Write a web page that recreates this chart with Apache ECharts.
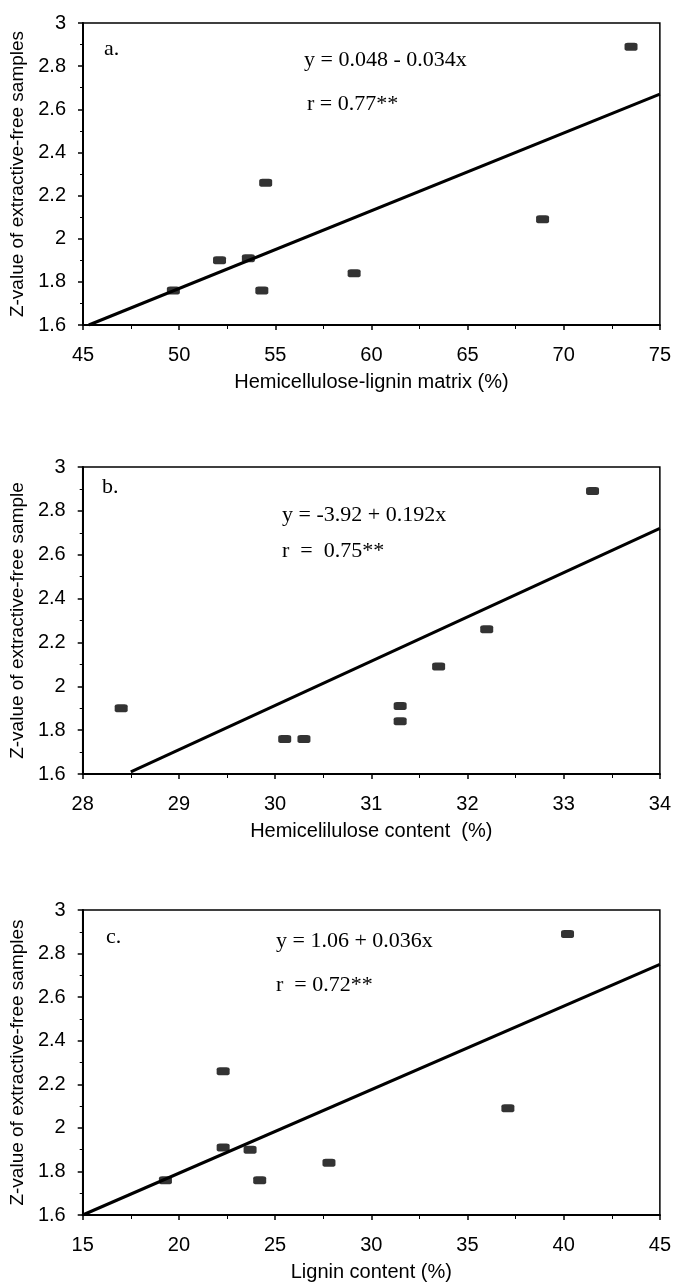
<!DOCTYPE html>
<html>
<head>
<meta charset="utf-8">
<script src="https://cdn.jsdelivr.net/npm/echarts@6/dist/echarts.min.js"></script>
<style>
  html, body { margin: 0; padding: 0; background: #fff; }
  #chart { width: 674px; height: 1285px; }
</style>
</head>
<body>
<div id="chart"></div>
<script>
// panel a: hemicellulose-lignin matrix
const matrixX = [73.5, 54.5, 68.9, 52.1, 53.6, 59.1, 54.3, 49.7]
const matrixZ = [2.89, 2.26, 2.09, 1.90, 1.91, 1.84, 1.76, 1.76]
const matrixFit = [[45.3, 1.6], [75, 2.67]]

// panel b: hemicellulose content
const hemiX = [33.3, 32.2, 31.7, 31.3, 31.3, 28.4, 30.1, 30.3]
const hemiZ = [2.89, 2.26, 2.09, 1.91, 1.84, 1.90, 1.76, 1.76]
const hemiFit = [[28.5, 1.61], [34, 2.72]]

// panel c: lignin content
const ligninX = [40.2, 22.3, 37.1, 22.3, 23.7, 27.8, 24.2, 19.3]
const ligninZ = [2.89, 2.26, 2.09, 1.91, 1.90, 1.84, 1.76, 1.76]
const ligninFit = [[15, 1.6], [45, 2.75]]

const yTicks = { min: 1.6, max: 3, interval: 0.2 }

const sans = 'Liberation Sans, Arial, sans-serif'
const serif = 'Liberation Serif, Times New Roman, serif'

const pair = (xs, ys) => xs.map((v, i) => [v, ys[i]])

const grids = [
  { left: 83, top: 23, width: 579, height: 302 },
  { left: 82, top: 467, width: 580, height: 307 },
  { left: 82, top: 910, width: 580, height: 305 },
].map((g) => ({ ...g, show: true, borderColor: '#000', borderWidth: 1.5, backgroundColor: 'transparent' }))

const xDefs = [
  { min: 45, max: 75, interval: 5, name: 'Hemicellulose-lignin matrix (%)' },
  { min: 28, max: 34, interval: 1, name: 'Hemicelilulose content  (%)' },
  { min: 15, max: 45, interval: 5, name: 'Lignin content (%)' },
]
const yNames = [
  'Z-value of extractive-free samples',
  'Z-value of extractive-free sample',
  'Z-value of extractive-free samples',
]

const xAxis = xDefs.map((d, i) => ({
  type: 'value',
  gridIndex: i,
  min: d.min,
  max: d.max,
  interval: d.interval,
  name: d.name,
  nameLocation: 'middle',
  nameGap: 47,
  nameTextStyle: { fontFamily: sans, fontSize: 20, color: '#000' },
  axisLine: { onZero: false, lineStyle: { color: '#000', width: 2 } },
  axisTick: { show: true, length: 5, lineStyle: { color: '#000', width: 1.5 } },
  minorTick: { show: true, splitNumber: 2, length: 4, lineStyle: { color: '#000' } },
  axisLabel: { fontFamily: sans, fontSize: 20, color: '#000', margin: 20 },
  splitLine: { show: false },
}))

const yAxis = yNames.map((n, i) => ({
  type: 'value',
  gridIndex: i,
  min: yTicks.min,
  max: yTicks.max,
  interval: yTicks.interval,
  name: n,
  nameLocation: 'middle',
  nameGap: 54,
  nameTextStyle: { fontFamily: sans, fontSize: 19, color: '#000' },
  axisLine: { onZero: false, lineStyle: { color: '#000', width: 2 } },
  axisTick: { show: true, length: 5, lineStyle: { color: '#000', width: 1.5 } },
  minorTick: { show: true, splitNumber: 2, length: 3, lineStyle: { color: '#000' } },
  axisLabel: { fontFamily: sans, fontSize: 20, color: '#000', margin: 17 },
  splitLine: { show: false },
}))

const scatter = (data, i) => ({
  type: 'scatter',
  xAxisIndex: i,
  yAxisIndex: i,
  data,
  symbol: 'roundRect',
  symbolSize: [13, 8],
  itemStyle: { color: '#000' },
  z: 3,
})
const fit = (data, i) => ({
  type: 'line',
  xAxisIndex: i,
  yAxisIndex: i,
  data,
  symbol: 'none',
  lineStyle: { color: '#000', width: 3 },
  silent: true,
})

const note = (text, left, top) => ({
  type: 'text',
  left,
  top,
  style: { text, font: '22px ' + serif, fill: '#000' },
})

const myChart = echarts.init(document.getElementById('chart'))
myChart.setOption({
  animation: false,
  grid: grids,
  xAxis,
  yAxis,
  series: [
    scatter(pair(matrixX, matrixZ), 0),
    fit(matrixFit, 0),
    scatter(pair(hemiX, hemiZ), 1),
    fit(hemiFit, 1),
    scatter(pair(ligninX, ligninZ), 2),
    fit(ligninFit, 2),
  ],
  graphic: [
    note('a.', 104, 38),
    note('y = 0.048 - 0.034x', 304, 49),
    note('r = 0.77**', 307, 93),
    note('b.', 102, 476),
    note('y = -3.92 + 0.192x', 282, 504),
    note('r  =  0.75**', 282, 540),
    note('c.', 106, 926),
    note('y = 1.06 + 0.036x', 276, 930),
    note('r  = 0.72**', 276, 974),
  ],
})
</script>
</body>
</html>
